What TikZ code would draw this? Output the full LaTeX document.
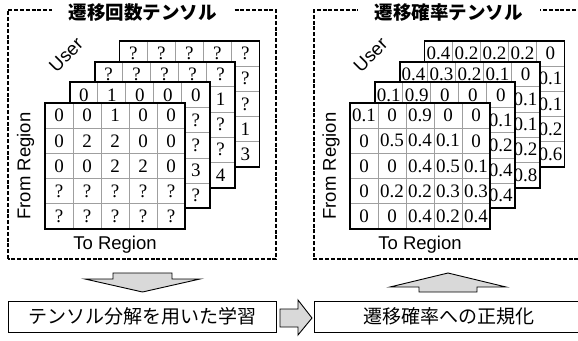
\documentclass[tikz,border=0pt]{standalone}
\usepackage{fontspec}
\setmainfont{Liberation Serif}
\setsansfont{Liberation Sans}
\newfontfamily\cjk{Noto Sans CJK JP}
\tikzset{
  cellgrid/.style={draw=gray!75, line width=0.8pt},
  layerborder/.style={draw=black, line width=1.8pt},
  num/.style={font=\fontsize{19}{19}\selectfont, inner sep=0pt, anchor=center},
  axislabel/.style={font=\sffamily\fontsize{18.5}{18.5}\selectfont, inner sep=0pt},
  paneltitle/.style={font=\cjk\bfseries\fontsize{18.5}{18.5}\selectfont, fill=white, inner xsep=17pt, inner ysep=1pt},
  panelbox/.style={draw=black, line width=1.6pt, dash pattern=on 4pt off 1.8pt},
  stepboxnode/.style={draw=black, line width=1pt, font=\cjk\fontsize{19}{19}\selectfont, inner sep=0pt},
  blockarrow/.style={draw=black, line width=0.9pt, fill=black!15, line join=miter},
}
% #1 name prefix, #2 ox, #3 oy, #4 top row values, #5 right column values (rows 2-5)
\newcommand\drawlayerback[5]{%
  \fill[white] (#2,#3) rectangle ++(140,126);
  \foreach \i in {1,...,4}{
    \draw[cellgrid] ({#2+28*\i},#3) -- ++(0,126);
    \draw[cellgrid] (#2,{#3+25.2*\i}) -- ++(140,0);
  }
  \draw[layerborder] (#2,#3) rectangle ++(140,126);
  \foreach \v [count=\c] in {#4}{
    \node[num] (#1-1-\c) at ({#2+28*\c-14},{#3+12.6}) {\v};
  }
  \foreach \v [count=\r from 2] in {#5}{
    \node[num] (#1-\r-5) at ({#2+126},{#3+25.2*\r-12.6}) {\v};
  }
}
\newcommand\drawlayerfront[4]{%
  \fill[white] (#2,#3) rectangle ++(140,126);
  \foreach \i in {1,...,4}{
    \draw[cellgrid] ({#2+28*\i},#3) -- ++(0,126);
    \draw[cellgrid] (#2,{#3+25.2*\i}) -- ++(140,0);
  }
  \draw[layerborder] (#2,#3) rectangle ++(140,126);
  \foreach \row [count=\r] in {#4}{
    \foreach \v [count=\c] in \row {
      \node[num] (#1-\r-\c) at ({#2+28*\c-14},{#3+25.2*\r-12.6}) {\v};
    }
  }
}
\begin{document}
\begin{tikzpicture}[x=1pt,y=-1pt]
\clip (0,0) rectangle (578,340);
\useasboundingbox (0,0) rectangle (578,340);

% ---------- left panel ----------
\draw[panelbox] (8,259) -- (8,10) -- (276,10) -- (276,259) -- cycle;
\node[paneltitle] (titleL) at (142.5,12.5) {遷移回数テンソル};
\drawlayerback{LD}{119.4}{40.9}{?,?,?,?,?}{?,?,1,3}
\drawlayerback{LC}{94.6}{61.6}{?,?,?,?,?}{1,?,?,4}
\drawlayerback{LB}{69.8}{82.3}{0,1,0,0,0}{?,?,3,?}
\drawlayerfront{LA}{45}{103}{{0,0,1,0,0},{0,2,2,0,0},{0,0,2,2,0},{?,?,?,?,?},{?,?,?,?,?}}
\node[axislabel, rotate=45] (userL) at (66,55) {User};
\node[axislabel, rotate=90] (fromL) at (25.5,166) {From Region};
\node[axislabel] (toL) at (115,245) {To Region};

% ---------- right panel ----------
\draw[panelbox] (590,259) -- (314,259) -- (314,10) -- (590,10);
\node[paneltitle] (titleR) at (448.5,12.5) {遷移確率テンソル};
\drawlayerback{RD}{424.4}{40.9}{0.4,0.2,0.2,0.2,0}{0.1,0.1,0.2,0.6}
\drawlayerback{RC}{399.6}{61.6}{0.4,0.3,0.2,0.1,0}{0.1,0.1,0.2,0.8}
\drawlayerback{RB}{374.8}{82.3}{0.1,0.9,0,0,0}{0.1,0.2,0.4,0.4}
\drawlayerfront{RA}{350}{103}{{0.1,0,0.9,0,0},{0,0.5,0.4,0.1,0},{0,0,0.4,0.5,0.1},{0,0.2,0.2,0.3,0.3},{0,0,0.4,0.2,0.4}}
\node[axislabel, rotate=45] (userR) at (370.5,55) {User};
\node[axislabel, rotate=90] (fromR) at (331,166) {From Region};
\node[axislabel] (toR) at (420,245) {To Region};

% ---------- bottom ----------
\draw[blockarrow] (113,273) -- (172,273) -- (172,279) -- (200,279) -- (142.5,292)
  -- (85,279) -- (113,279) -- cycle;
\draw[blockarrow] (448,273) -- (506,287) -- (477,287) -- (477,292) -- (419,292)
  -- (419,287) -- (390,287) -- cycle;
\node[stepboxnode, minimum width=268pt, minimum height=31pt] (learn) at (142,316.5) {テンソル分解を用いた学習};
\node[stepboxnode, minimum width=272pt, minimum height=31pt, anchor=west] (norm) at (314,316.5) {\hspace*{-4pt}遷移確率への正規化\hspace*{0pt}};
\draw[blockarrow] (280,309) -- (298,309) -- (298,300) -- (312,318) -- (298,335)
  -- (298,327) -- (280,327) -- cycle;
\end{tikzpicture}
\end{document}
